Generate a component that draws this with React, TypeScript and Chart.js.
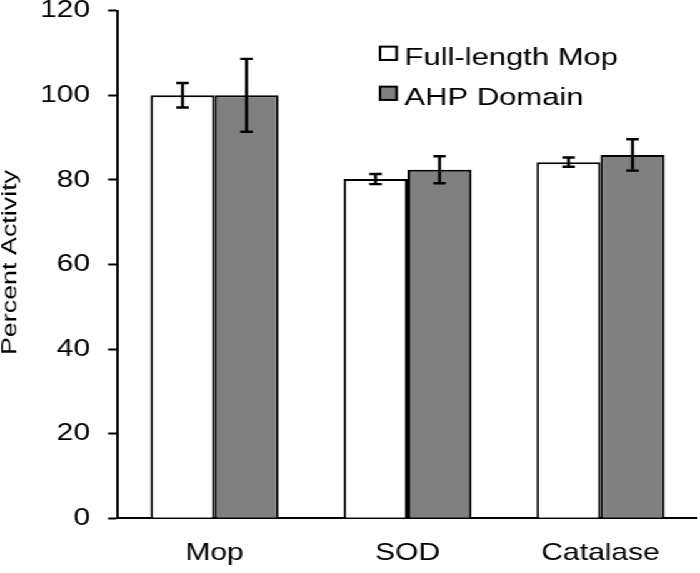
import React, { useEffect, useRef } from "react";
import { Chart, registerables } from "chart.js";

Chart.register(...registerables);

const categories = ["Mop", "SOD", "Catalase"];
const seriesNames = ["Full-length Mop", "AHP Domain"];
const fullLength = [100, 80.2, 84.2];
const fullLengthErr = [2.9, 1.2, 1.1];
const ahpDomain = [100, 82.4, 85.9];
const ahpDomainErr = [8.6, 3.2, 3.7];
const yTicks = [0, 20, 40, 60, 80, 100, 120];
const yTitle = "Percent Activity";

const FONT = '"Liberation Sans", Arial, Helvetica, sans-serif';
const CANVAS_W = 560;
const CANVAS_H = 573;
const STRETCH = 1.25;

const errorBarPlugin = {
  id: "errorBars",
  afterDatasetsDraw(chart: any) {
    const ctx = chart.ctx;
    const yScale = chart.scales.y;
    const errs = [fullLengthErr, ahpDomainErr];
    ctx.save();
    ctx.strokeStyle = "#000";
    ctx.lineWidth = 2.4;
    chart.data.datasets.forEach((ds: any, i: number) => {
      const meta = chart.getDatasetMeta(i);
      meta.data.forEach((bar: any, j: number) => {
        const v = ds.data[j];
        const e = errs[i][j];
        const x = bar.x;
        const yTop = yScale.getPixelForValue(v + e);
        const yBot = yScale.getPixelForValue(v - e);
        const cap = 5;
        ctx.beginPath();
        ctx.moveTo(x, yTop);
        ctx.lineTo(x, yBot);
        ctx.moveTo(x - cap, yTop);
        ctx.lineTo(x + cap, yTop);
        ctx.moveTo(x - cap, yBot);
        ctx.lineTo(x + cap, yBot);
        ctx.stroke();
      });
    });
    ctx.restore();
  },
};

const legendPlugin = {
  id: "customLegend",
  afterDraw(chart: any) {
    const ctx = chart.ctx;
    ctx.save();
    const boxX = 304;
    const box = 13.3;
    const rows = [53.3, 93.3];
    chart.data.datasets.forEach((ds: any, i: number) => {
      const cy = rows[i];
      ctx.fillStyle = ds.backgroundColor;
      ctx.fillRect(boxX, cy - box / 2, box, box);
      ctx.strokeStyle = "#000";
      ctx.lineWidth = 2;
      ctx.strokeRect(boxX, cy - box / 2, box, box);
      ctx.fillStyle = "#000";
      ctx.font = `24.8px ${FONT}`;
      ctx.textAlign = "left";
      ctx.textBaseline = "alphabetic";
      ctx.fillText(ds.label, 323.5, cy + 11.9);
    });
    ctx.restore();
  },
};

const yTitlePlugin = {
  id: "yTitle",
  afterDraw(chart: any) {
    const ctx = chart.ctx;
    const area = chart.chartArea;
    ctx.save();
    ctx.translate(13.4, (area.top + area.bottom) / 2 - 2);
    ctx.rotate(-Math.PI / 2);
    ctx.scale(1.58, 1);
    ctx.fillStyle = "#000";
    ctx.font = `17px ${FONT}`;
    ctx.textAlign = "center";
    ctx.textBaseline = "alphabetic";
    ctx.fillText(yTitle, 0, 0);
    ctx.restore();
  },
};

export default function App() {
  const canvasRef = useRef<HTMLCanvasElement | null>(null);

  useEffect(() => {
    const canvas = canvasRef.current;
    if (!canvas) return;
    const chart = new Chart(canvas, {
      type: "bar",
      data: {
        labels: categories,
        datasets: [
          {
            label: seriesNames[0],
            data: fullLength,
            backgroundColor: "#ffffff",
            borderColor: "#000000",
            borderWidth: 2,
            categoryPercentage: 0.663,
            barPercentage: 1,
          },
          {
            label: seriesNames[1],
            data: ahpDomain,
            backgroundColor: "#808080",
            borderColor: "#000000",
            borderWidth: 2,
            categoryPercentage: 0.663,
            barPercentage: 1,
          },
        ],
      },
      options: {
        responsive: false,
        animation: false,
        devicePixelRatio: 1,
        layout: { padding: { top: 10.7, right: 2.4, bottom: 0, left: 0 } },
        plugins: {
          legend: { display: false },
          tooltip: { enabled: false },
          title: { display: false },
        },
        scales: {
          x: {
            grid: { display: false, drawTicks: false },
            border: { display: true, color: "#000", width: 2 },
            ticks: {
              color: "#000",
              font: { family: FONT, size: 24 },
              padding: 20.6,
              maxRotation: 0,
            },
            afterFit(scale: any) {
              scale.height = 54.7;
              scale.paddingLeft = 0;
              scale.paddingRight = 0;
            },
          },
          y: {
            min: 0,
            max: 120,
            afterBuildTicks(scale: any) {
              scale.ticks = yTicks.map((v) => ({ value: v }));
            },
            grid: {
              display: true,
              drawOnChartArea: false,
              drawTicks: true,
              tickLength: 8,
              tickColor: "#000",
              tickWidth: 2,
            },
            border: { display: true, color: "#000", width: 2 },
            ticks: {
              color: "#000",
              font: { family: FONT, size: 24 },
              padding: 14.4,
            },
            afterFit(scale: any) {
              scale.width = 94.4;
              scale.paddingTop = 0;
              scale.paddingBottom = 0;
            },
          },
        },
      },
      plugins: [errorBarPlugin, legendPlugin, yTitlePlugin],
    });
    return () => chart.destroy();
  }, []);

  return (
    <div
      style={{
        position: "absolute",
        left: 0,
        top: 0,
        width: CANVAS_W,
        height: CANVAS_H,
        transform: `scaleX(${STRETCH})`,
        transformOrigin: "0 0",
        background: "#fff",
      }}
    >
      <canvas ref={canvasRef} width={CANVAS_W} height={CANVAS_H} />
    </div>
  );
}
